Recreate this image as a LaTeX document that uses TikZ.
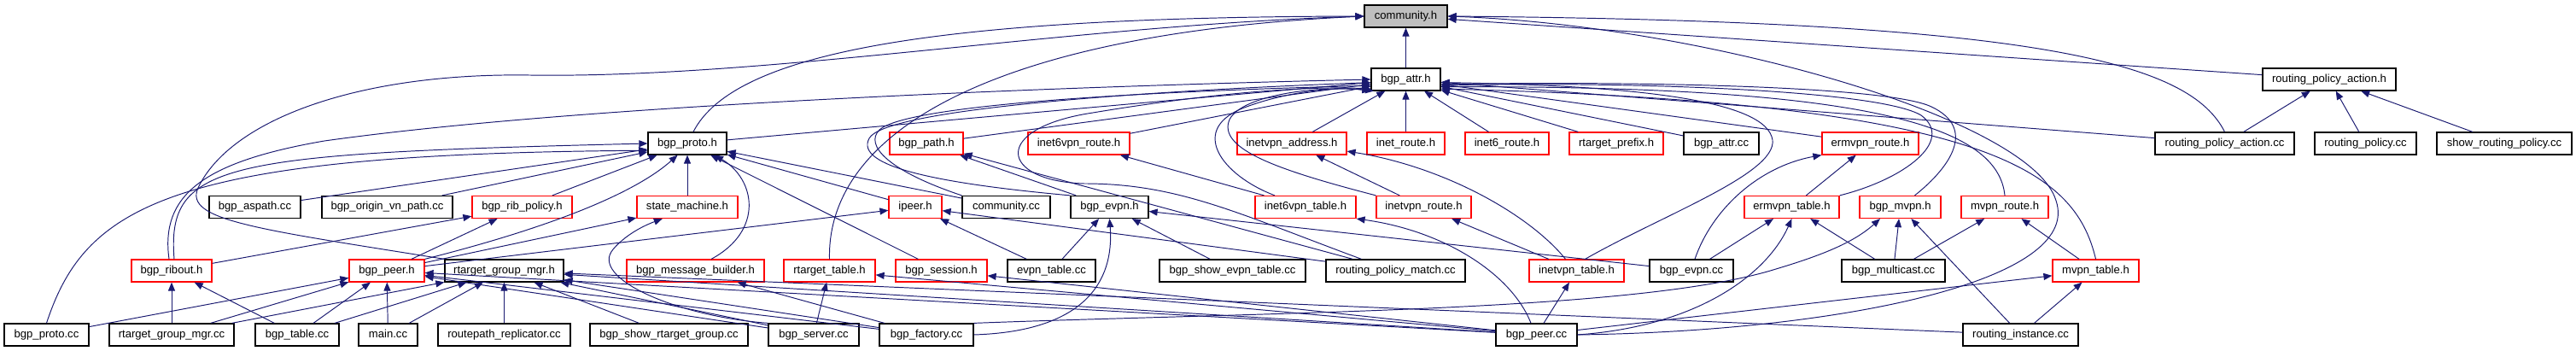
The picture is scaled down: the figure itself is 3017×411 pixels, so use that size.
\documentclass[tikz,border=0pt]{standalone}
\usepackage{fontspec}
\setmainfont{Liberation Sans}
\usetikzlibrary{arrows.meta}
\definecolor{edgeblue}{HTML}{191970}
\definecolor{truncred}{HTML}{FF0000}
\definecolor{rootgray}{HTML}{BFBFBF}

\begin{document}
\begin{tikzpicture}[
    x=0.02cm, y=-0.02cm,
    filebox/.style={
        rectangle,
        draw=black,
        fill=white,
        line width=0.7pt,
        inner sep=0pt,
        minimum height=0.52cm,
        text height=5.5pt,
        text depth=1.6pt,
        font=\fontsize{7.45}{9}\selectfont
    },
    redbox/.style={filebox, draw=truncred},
    rootbox/.style={filebox, fill=rootgray},
    wd/.style={minimum width=#1*0.02cm},
    incl/.style={-{Triangle[length=2mm, width=1.6mm]}, line width=0.55pt, draw=edgeblue}
]
\useasboundingbox (0,0) rectangle (3017,411);

% row 0
\node[rootbox, wd=97] (community) at (1646.5,19) {community.h};

% row 1
\node[filebox, wd=81] (bgpattr) at (1646.5,93) {bgp\_attr.h};
\node[filebox, wd=156] (rpactionh) at (2728,93) {routing\_policy\_action.h};

% row 2
\node[filebox, wd=92] (bgpprotoh) at (805,168) {bgp\_proto.h};
\node[redbox, wd=86] (bgppath) at (1085,168) {bgp\_path.h};
\node[redbox, wd=119] (inet6vpnroute) at (1263.5,168) {inet6vpn\_route.h};
\node[redbox, wd=128] (inetvpnaddr) at (1513,168) {inetvpn\_address.h};
\node[redbox, wd=91] (inetroute) at (1646.5,168) {inet\_route.h};
\node[redbox, wd=98] (inet6route) at (1765,168) {inet6\_route.h};
\node[redbox, wd=110] (rtprefix) at (1893,168) {rtarget\_prefix.h};
\node[filebox, wd=88] (bgpattrcc) at (2016,168) {bgp\_attr.cc};
\node[redbox, wd=113] (ermvpnroute) at (2190.5,168) {ermvpn\_route.h};
\node[filebox, wd=163] (rpactioncc) at (2605.5,168) {routing\_policy\_action.cc};
\node[filebox, wd=119] (rpcc) at (2770.5,168) {routing\_policy.cc};
\node[filebox, wd=158] (showrp) at (2933,168) {show\_routing\_policy.cc};

% row 3
\node[filebox, wd=107] (aspath) at (298.5,242.5) {bgp\_aspath.cc};
\node[filebox, wd=153] (originvn) at (453.5,242.5) {bgp\_origin\_vn\_path.cc};
\node[redbox, wd=117] (ribpolicy) at (611.5,242.5) {bgp\_rib\_policy.h};
\node[redbox, wd=118] (statemachine) at (805,242.5) {state\_machine.h};
\node[redbox, wd=62] (ipeer) at (1072,242.5) {ipeer.h};
\node[filebox, wd=103] (communitycc) at (1178.5,242.5) {community.cc};
\node[filebox, wd=91] (bgpevpnh) at (1299.5,242.5) {bgp\_evpn.h};
\node[redbox, wd=118] (inet6vpntable) at (1529,242.5) {inet6vpn\_table.h};
\node[redbox, wd=111] (inetvpnroute) at (1667.5,242.5) {inetvpn\_route.h};
\node[redbox, wd=111] (ermvpntable) at (2098.5,242.5) {ermvpn\_table.h};
\node[redbox, wd=95] (bgpmvpn) at (2225.5,242.5) {bgp\_mvpn.h};
\node[redbox, wd=102] (mvpnroute) at (2348,242.5) {mvpn\_route.h};

% row 4
\node[redbox, wd=94] (ribout) at (201,317) {bgp\_ribout.h};
\node[redbox, wd=88] (bgppeerh) at (453,317) {bgp\_peer.h};
\node[filebox, wd=139] (rtgmgrh) at (590.5,317) {rtarget\_group\_mgr.h};
\node[redbox, wd=161] (msgbuilder) at (814.5,317) {bgp\_message\_builder.h};
\node[redbox, wd=107] (rttable) at (971.5,317) {rtarget\_table.h};
\node[redbox, wd=107] (session) at (1102.5,317) {bgp\_session.h};
\node[filebox, wd=103] (evpntablecc) at (1231.5,317) {evpn\_table.cc};
\node[filebox, wd=171] (showevpn) at (1443.5,317) {bgp\_show\_evpn\_table.cc};
\node[filebox, wd=163] (rpmatch) at (1634.5,317) {routing\_policy\_match.cc};
\node[redbox, wd=111] (inetvpntable) at (1846.5,317) {inetvpn\_table.h};
\node[filebox, wd=98] (bgpevpncc) at (1981,317) {bgp\_evpn.cc};
\node[filebox, wd=121] (multicast) at (2217.5,317) {bgp\_multicast.cc};
\node[redbox, wd=101] (mvpntable) at (2454.5,317) {mvpn\_table.h};

% row 5
\node[filebox, wd=99] (protocc) at (54.5,392) {bgp\_proto.cc};
\node[filebox, wd=146] (rtgmgrcc) at (201,392) {rtarget\_group\_mgr.cc};
\node[filebox, wd=98] (tablecc) at (348,392) {bgp\_table.cc};
\node[filebox, wd=69] (maincc) at (454.5,392) {main.cc};
\node[filebox, wd=155] (replicator) at (590.5,392) {routepath\_replicator.cc};
\node[filebox, wd=185] (showrtg) at (783.5,392) {bgp\_show\_rtarget\_group.cc};
\node[filebox, wd=106] (servercc) at (953,392) {bgp\_server.cc};
\node[filebox, wd=110] (factorycc) at (1085,392) {bgp\_factory.cc};
\node[filebox, wd=95] (peercc) at (1799.5,392) {bgp\_peer.cc};
\node[filebox, wd=135] (rinstance) at (2366.5,392) {routing\_instance.cc};

% into community.h
\draw[incl] (bgpattr) -- (community);
\draw[incl] ([xshift=0.14cm]bgpprotoh.north) .. controls (860,60) and (1100,20) .. (community.west);
\draw[incl] (rtgmgrh.north west) .. controls (300,268) and (215,258) .. (232,220) .. controls (270,140) and (420,85) .. (620,88) .. controls (900,92) and (1250,30) .. (community.west);
\draw[incl] (rttable.north) .. controls (968,160) and (1150,40) .. (community.west);
\draw[incl] (rpactionh) -- (community);
\draw[incl] (rpactioncc.north) .. controls (2565,75) and (2400,25) .. (community.east);
\draw[incl] (peercc.east) .. controls (2150,388) and (2440,330) .. (2408,235) .. controls (2380,140) and (2000,30) .. (community.east);

% into bgp_attr.h
\draw[incl] (bgpprotoh) -- (bgpattr);
\draw[incl] ([xshift=-0.06cm]ribout.north) .. controls (188,230) and (235,190) .. (380,165) .. controls (700,120) and (1300,100) .. (bgpattr.west);
\draw[incl] (bgppath) -- (bgpattr);
\draw[incl] (inet6vpnroute) -- (bgpattr);
\draw[incl] (communitycc.north west) .. controls (1040,200) and (1012,170) .. (1030,152) .. controls (1060,125) and (1300,108) .. (bgpattr.190);
\draw[incl] (bgpevpnh.north west) .. controls (1100,215) and (1000,195) .. (1018,162) .. controls (1035,130) and (1300,108) .. (bgpattr.185);
\draw[incl] ([xshift=-0.8cm]rpmatch.north) .. controls (1450,250) and (1380,215) .. (1270,215) .. controls (1170,212) and (1160,150) .. (1280,132) .. controls (1400,112) and (1520,100) .. (bgpattr.195);
\draw[incl] ([xshift=-0.72cm]inet6vpntable.north) .. controls (1430,205) and (1390,150) .. (1460,125) .. controls (1500,110) and (1560,100) .. (bgpattr.200);
\draw[incl] (inetvpnroute.north west) .. controls (1500,200) and (1425,175) .. (1440,140) .. controls (1455,110) and (1550,100) .. (bgpattr.198);
\draw[incl] (inetvpnaddr) -- (bgpattr);
\draw[incl] (inetroute) -- (bgpattr);
\draw[incl] (inet6route) -- (bgpattr);
\draw[incl] (rtprefix) -- (bgpattr);
\draw[incl] (bgpattrcc) -- (bgpattr);
\draw[incl] (ermvpnroute) -- (bgpattr);
\draw[incl] (rpactioncc) -- (bgpattr);
\draw[incl] ([xshift=0.2cm]inetvpntable.north) .. controls (1950,250) and (2090,200) .. (2075,160) .. controls (2060,115) and (1900,100) .. (bgpattr.355);
\draw[incl] (ermvpntable.north east) .. controls (2230,210) and (2290,165) .. (2250,135) .. controls (2200,105) and (1900,95) .. (bgpattr.350);
\draw[incl] ([xshift=0.34cm]bgpmvpn.north) .. controls (2285,195) and (2315,150) .. (2262,125) .. controls (2210,100) and (1900,95) .. (bgpattr.352);
\draw[incl] (mvpnroute.north) .. controls (2340,150) and (2200,100) .. (bgpattr.348);
\draw[incl] (mvpntable.north) .. controls (2430,200) and (2330,120) .. (bgpattr.345);

% into bgp_proto.h
\draw[incl] ([xshift=0.06cm]ribout.north) .. controls (195,190) and (260,180) .. (bgpprotoh.west);
\draw[incl] (protocc.north) .. controls (100,240) and (200,180) .. (bgpprotoh.190);
\draw[incl] (aspath) -- (bgpprotoh);
\draw[incl] (originvn) -- (bgpprotoh);
\draw[incl] (ribpolicy) -- (bgpprotoh);
\draw[incl] (bgppeerh.north east) .. controls (650,265) and (745,225) .. (bgpprotoh.230);
\draw[incl] (statemachine) -- (bgpprotoh);
\draw[incl] ([xshift=0.37cm]msgbuilder.north) .. controls (895,270) and (885,210) .. (bgpprotoh.337);
\draw[incl] (session) -- (bgpprotoh);
\draw[incl] (ipeer) -- (bgpprotoh);
\draw[incl] (communitycc) -- (bgpprotoh);

% row 3 headers
\draw[incl] (ribout) -- (ribpolicy);
\draw[incl] (bgppeerh) -- (ribpolicy);
\draw[incl] (bgppeerh) -- (statemachine);
\draw[incl] (servercc.north west) .. controls (790,370) and (690,325) .. (718,292) .. controls (735,272) and (760,262) .. (statemachine.205);
\draw[incl] (bgppeerh) -- (ipeer);
\draw[incl] (evpntablecc) -- (ipeer);
\draw[incl] (rpmatch) -- (ipeer);
\draw[incl] (bgpevpnh) -- (bgppath);
\draw[incl] (rpmatch) -- (bgppath);
\draw[incl] (evpntablecc) -- (bgpevpnh);
\draw[incl] (factorycc.east) .. controls (1270,388) and (1305,330) .. (bgpevpnh.south);
\draw[incl] (showevpn) -- (bgpevpnh);
\draw[incl] (bgpevpncc) -- (bgpevpnh);
\draw[incl] (inet6vpntable) -- (inet6vpnroute);
\draw[incl] (inetvpnroute) -- (inetvpnaddr);
\draw[incl] ([xshift=-0.26cm]inetvpntable.north) .. controls (1790,250) and (1690,195) .. (inetvpnaddr.352);
\draw[incl] (inetvpntable) -- (inetvpnroute);
\draw[incl] ([xshift=-0.13cm]peercc.north) .. controls (1770,320) and (1690,270) .. (inet6vpntable.south east);
\draw[incl] (peercc) -- (inetvpntable);
\draw[incl] ([xshift=0.08cm]bgpevpncc.north) .. controls (2005,245) and (2060,195) .. (ermvpnroute.south west);
\draw[incl] (ermvpntable) -- (ermvpnroute);
\draw[incl] (bgpevpncc) -- (ermvpntable);
\draw[incl] (peercc.east) .. controls (1990,382) and (2070,320) .. (ermvpntable.south);
\draw[incl] (multicast) -- (ermvpntable);
\draw[incl] (multicast) -- (bgpmvpn);
\draw[incl] (rinstance) -- (bgpmvpn);
\draw[incl] (factorycc.north east) .. controls (1500,365) and (1920,365) .. (2080,315) .. controls (2130,300) and (2170,285) .. (bgpmvpn.210);
\draw[incl] (multicast) -- (mvpnroute);
\draw[incl] (mvpntable) -- (mvpnroute);
\draw[incl] (rinstance) -- (mvpntable);
\draw[incl] (peercc) -- (mvpntable);

% routing policy
\draw[incl] (rpactioncc) -- (rpactionh);
\draw[incl] (rpcc) -- (rpactionh);
\draw[incl] (showrp) -- (rpactionh);

% row 4 headers
\draw[incl] (rtgmgrcc) -- (ribout);
\draw[incl] (tablecc) -- (ribout);
\draw[incl] (protocc) -- (bgppeerh);
\draw[incl] (rtgmgrcc) -- (bgppeerh);
\draw[incl] (tablecc) -- (bgppeerh);
\draw[incl] (maincc) -- (bgppeerh);
\draw[incl] (servercc) -- (bgppeerh);
\draw[incl] (factorycc) -- (bgppeerh);
\draw[incl] (peercc) -- (bgppeerh);
\draw[incl] (rtgmgrcc) -- (rtgmgrh);
\draw[incl] (tablecc) -- (rtgmgrh);
\draw[incl] (maincc) -- (rtgmgrh);
\draw[incl] (replicator) -- (rtgmgrh);
\draw[incl] (showrtg) -- (rtgmgrh);
\draw[incl] (servercc) -- (rtgmgrh);
\draw[incl] (factorycc) -- (rtgmgrh);
\draw[incl] (peercc) -- (rtgmgrh);
\draw[incl] (rinstance) -- (rtgmgrh);
\draw[incl] (factorycc) -- (msgbuilder);
\draw[incl] (servercc) -- (rttable);
\draw[incl] (peercc) -- (rttable);
\draw[incl] (peercc) -- (session);

\end{tikzpicture}
\end{document}
